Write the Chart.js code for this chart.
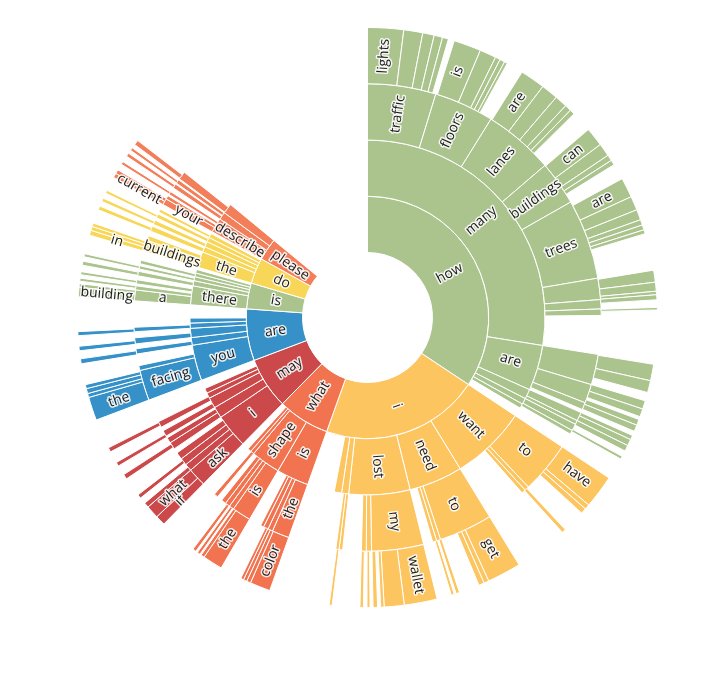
<!DOCTYPE html>
<html>
<head>
<meta charset="utf-8">
<title>Question sunburst</title>
<script src="https://cdn.jsdelivr.net/npm/chart.js@4.4.1/dist/chart.umd.min.js"></script>
<style>
  html, body { margin: 0; padding: 0; background: #fff; }
  #wrap { position: relative; width: 716px; height: 680px; }
</style>
</head>
<body>
<div id="wrap"><canvas id="sunburst" width="716" height="680"></canvas></div>
<script>
// ==== data: one array pair per ring (inner -> outer) ====
// words: label of each segment ('' = unlabeled, null = empty gap)
// values: angular share of each segment (whole ring = 360)
const ring1Words  = ['how', 'i', 'what', 'may', 'are', 'is', 'do', 'please', null];
const ring1Values = [123.6, 76.1, 24.9, 24.7, 24.8, 12.4, 12.4, 10.6, 50.5];

const ring2Words = [
  'many', 'are', '', '', '', null,
  'want', 'need', 'lost', '', '', null,
  'is', 'shape', '', '', null,
  'i', '', '', '', '', null,
  'you', '', '', '', '', null,
  'there', '', '', '', '', null,
  'the', '', '', '', '', null,
  'describe', '', '', null
];
const ring2Values = [
  99.1, 14.9, 3.2, 2.0, 1.5, 2.9,
  24.9, 17.6, 20.0, 2.3, 2.4, 8.9,
  10.6, 9.6, 1.2, 1.2, 2.3,
  11.2, 3.7, 3.5, 1.8, 1.6, 2.9,
  11.7, 2.5, 3.0, 1.7, 1.6, 4.3,
  6.2, 1.7, 1.3, 1.2, 1.2, 0.8,
  5.2, 1.8, 1.8, 1.5, 1.4, 0.7,
  4.8, 2.5, 3.3, 50.5
];

const ring3Words = [
  'traffic', 'floors', 'lanes', 'buildings', 'trees', '', '', '', null,
  '', '', '', null, '', '', '', '', null,
  'to', '', '', null, 'to', '', '', null, 'my', '', '', null, '', '', null,
  'the', '', '', '', null, 'is', '', '', '', null, '', null,
  'ask', '', '', '', null, '', '', null, '', null, '', null,
  'facing', '', null, '', null, '', null, '', null,
  'a', '', null, '', null, '', null, '', null, '', null,
  'buildings', '', null, '', null, '', null, '', null, '', null,
  'your', '', null, '', null, '', null, '', null, '', null
];
const ring3Values = [
  17, 14.9, 17.5, 11, 19.9, 5.3, 2.3, 1.6, 9.6,
  7.6, 4.7, 1.8, 0.8, 2.2, 1.0, 1.7, 1.0, 3.7,
  12.9, 1.1, 1.0, 9.9, 13.3, 1.0, 1.0, 2.3, 12.9, 1.3, 1.2, 4.6, 0.9, 0.8, 11.9,
  4.3, 1.2, 1.2, 0.8, 3.1, 4.7, 1.2, 1.2, 1.2, 1.3, 1.0, 3.7,
  4.6, 1.8, 1.8, 1.8, 1.2, 1.8, 1.4, 0.5, 1.5, 1.0, 1.5, 5.8,
  7.6, 1.2, 2.9, 1.3, 1.2, 1.5, 1.5, 1.1, 6.5,
  2.7, 1.0, 0.5, 1.0, 1.0, 1.1, 0.6, 0.8, 0.5, 0.9, 2.3,
  2.8, 1.2, 1.2, 1.3, 0.5, 1.1, 0.7, 1.0, 0.5, 0.8, 1.3,
  1.6, 0.9, 0.4, 0.8, 1.1, 1.1, 0.3, 1.0, 0.3, 2.0, 51.6
];

const ring4Words = [
  'lights', '', '', '', '', null,
  'is', '', '', '', '', null,
  'are', '', '', '', '', null,
  'can', '', '', '', null,
  'are', '', '', '', '', '', null,
  '', '', '', '', null, '', null,
  '', '', null, '', '', null, '', '', null, '', '', '', null, '', null,
  'have', '', '', null, '', null,
  'get', '', '', null, '', null, '', null,
  'wallet', '', '', null, '', null, '', null, '', null, '', null,
  'color', '', '', '', null, 'the', '', null, '', null, '', null,
  'if', 'what', '', null, '', null, '', null, '', null, '', null,
  'the', '', '', '', null, '', null, '', null, '', null,
  'building', '', null, '', null, '', null, '', null, '', null,
  'in', '', '', null, '', null, '', null, '', null,
  'current', '', null, '', null, '', null, '', null, '', null
];
const ring4Values = [
  7.2, 3.8, 2.3, 1.7, 1.2, 1.2,
  5.5, 3.3, 1.0, 1.0, 0.6, 3.4,
  5.0, 3.4, 2.5, 1.3, 1.0, 4.2,
  3.8, 2.6, 1.2, 1.0, 3.2,
  4.0, 2.8, 2.1, 1.1, 1.0, 0.8, 7.4,
  2.4, 1.8, 0.7, 1.0, 1.5, 0.5, 10.8,
  3.3, 2.4, 1.7, 1.7, 1.6, 0.6, 1.2, 1.3, 0.9, 0.9, 1.3, 1.2, 1.2, 0.6, 4.4,
  6.7, 1.0, 1.1, 4.6, 0.8, 10.7,
  6.8, 1.0, 1.1, 4.1, 0.7, 0.4, 0.6, 2.9,
  6.6, 4.0, 0.7, 0.6, 0.9, 0.6, 0.6, 0.7, 0.7, 5.5, 0.6, 12.1,
  4.1, 0.8, 0.7, 0.6, 4.4, 4.0, 0.7, 0.3, 0.6, 0.4, 0.7, 7.6,
  2.0, 2.6, 1.0, 1.3, 0.8, 3.9, 1.0, 2.0, 0.8, 2.4, 0.9, 6.0,
  4.7, 0.8, 1.0, 0.8, 4.2, 1.0, 1.6, 0.9, 2.1, 0.8, 6.9,
  1.9, 0.7, 0.5, 0.6, 0.7, 0.6, 1.3, 0.8, 0.9, 0.6, 3.8,
  1.0, 0.8, 0.7, 2.8, 0.8, 1.0, 0.7, 1.1, 0.6, 2.9,
  0.9, 0.8, 1.3, 0.6, 1.3, 0.7, 0.7, 0.6, 0.8, 1.0, 52.4
];

// one colour per first word (how, i, what, may, are, is, do, please)
const palette = ['#abc48e', '#fdc55f', '#f1734f', '#cb494a', '#3591c7', '#abc48e', '#f8d657', '#f27f5a'];

// ==== which first word a segment hangs under (by where its middle falls) ====
function branchOf(words, values) {
  const bounds = [];
  let acc = 0;
  ring1Values.forEach(v => { bounds.push([acc, acc + v]); acc += v; });
  acc = 0;
  return values.map((v, i) => {
    const mid = acc + v / 2;
    acc += v;
    if (words[i] === null) return -1;
    return bounds.findIndex(b => mid >= b[0] && mid < b[1]);
  });
}

function ring(words, values) {
  const br = branchOf(words, values);
  return {
    data: values,
    words: words,
    backgroundColor: br.map(b => b < 0 ? 'rgba(0,0,0,0)' : palette[b]),
    borderColor: br.map(b => b < 0 ? 'rgba(0,0,0,0)' : '#ffffff'),
    borderWidth: 1
  };
}

// ==== labels: radial text, flipped on the left half ====
const sunLabels = {
  id: 'sunLabels',
  afterDatasetsDraw(chart) {
    const ctx = chart.ctx;
    ctx.save();
    ctx.font = '14px "Open Sans", sans-serif';
    ctx.textAlign = 'center';
    ctx.textBaseline = 'middle';
    ctx.lineJoin = 'round';
    chart.data.datasets.forEach((ds, di) => {
      const meta = chart.getDatasetMeta(di);
      meta.data.forEach((arc, i) => {
        const w = ds.words[i];
        if (!w) return;
        const p = arc.getProps(['x', 'y', 'startAngle', 'endAngle', 'innerRadius', 'outerRadius'], true);
        const a = (p.startAngle + p.endAngle) / 2;
        const r = (p.innerRadius + p.outerRadius) / 2;
        ctx.save();
        ctx.translate(p.x + Math.cos(a) * r, p.y + Math.sin(a) * r);
        let rot = a;
        if (a + Math.PI / 2 > Math.PI) rot += Math.PI;
        ctx.rotate(rot);
        ctx.lineWidth = 3;
        ctx.strokeStyle = 'rgba(255,255,255,0.85)';
        ctx.strokeText(w, 0, 0);
        ctx.fillStyle = '#1c1c1c';
        ctx.fillText(w, 0, 0);
        ctx.restore();
      });
    });
    ctx.restore();
  }
};

new Chart(document.getElementById('sunburst'), {
  type: 'doughnut',
  data: {
    labels: ring4Words.map(w => w || ''),
    // outermost ring first
    datasets: [
      ring(ring4Words, ring4Values),
      ring(ring3Words, ring3Values),
      ring(ring2Words, ring2Values),
      ring(ring1Words, ring1Values)
    ]
  },
  options: {
    responsive: false,
    animation: false,
    cutout: '22.4%',
    layout: { padding: { left: 77, right: 58, top: 27, bottom: 72 } },
    events: [],
    plugins: {
      legend: { display: false },
      tooltip: { enabled: false }
    }
  },
  plugins: [sunLabels]
});
</script>
</body>
</html>
